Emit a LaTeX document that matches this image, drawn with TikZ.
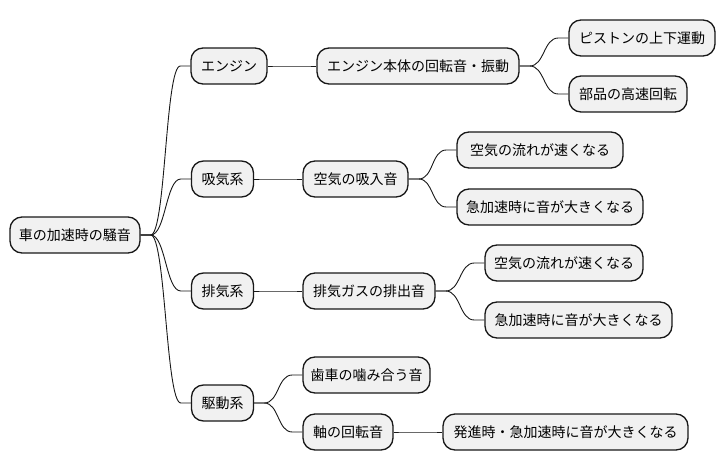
\documentclass[tikz,border=0pt]{standalone}
\usepackage{fontspec}
\setmainfont{Noto Sans CJK JP}
\usetikzlibrary{calc}
\definecolor{boxfill}{HTML}{F1F1F1}
\definecolor{boxline}{HTML}{181818}
\tikzset{
  mm/.style={draw=boxline, fill=boxfill, line width=1.3pt, rounded corners=12pt,
    minimum height=36pt, inner sep=0pt, align=center,
    font=\fontsize{14}{16}\selectfont, text=black},
  conn/.style={draw=boxline, line width=0.9pt}
}
\newcommand\mmconn[2]{\draw[conn] (#1.east) -- ++(10,0) .. controls +(15,0) and ($(#2.west)+(-25,0)$) .. ($(#2.west)+(-10,0)$) -- (#2.west);}
\begin{document}
\begin{tikzpicture}[x=1pt,y=-1pt]
\useasboundingbox (0,0) rectangle (726,471);
\node[mm, minimum width=130pt] (root) at (75,235) {車の加速時の騒音};
\node[mm, minimum width=76pt] (eng) at (229,66) {エンジン};
\node[mm, minimum width=202pt] (hon) at (418,66) {エンジン本体の回転音・振動};
\node[mm, minimum width=146pt] (pis) at (642,38) {ピストンの上下運動};
\node[mm, minimum width=118pt] (buh) at (628,94) {部品の高速回転};
\node[mm, minimum width=62pt] (kyu) at (222.5,179) {吸気系};
\node[mm, minimum width=105pt] (kyn) at (355.5,179) {空気の吸入音};
\node[mm, minimum width=166pt] (k1) at (540,150) {空気の流れが速くなる};
\node[mm, minimum width=186pt] (k2) at (550,207) {急加速時に音が大きくなる};
\node[mm, minimum width=62pt] (hai) at (222.5,291) {排気系};
\node[mm, minimum width=132pt] (has) at (369,291) {排気ガスの排出音};
\node[mm, minimum width=158pt] (h1) at (564,263) {空気の流れが速くなる};
\node[mm, minimum width=187pt] (h2) at (578.5,320) {急加速時に音が大きくなる};
\node[mm, minimum width=62pt] (kud) at (222.5,403) {駆動系};
\node[mm, minimum width=127pt] (hag) at (366.5,375) {歯車の噛み合う音};
\node[mm, minimum width=90pt] (jik) at (348,432) {軸の回転音};
\node[mm, minimum width=245pt] (hsn) at (565.5,432) {発進時・急加速時に音が大きくなる};
\mmconn{root}{eng}
\mmconn{root}{kyu}
\mmconn{root}{hai}
\mmconn{root}{kud}
\mmconn{eng}{hon}
\mmconn{hon}{pis}
\mmconn{hon}{buh}
\mmconn{kyu}{kyn}
\mmconn{kyn}{k1}
\mmconn{kyn}{k2}
\mmconn{hai}{has}
\mmconn{has}{h1}
\mmconn{has}{h2}
\mmconn{kud}{hag}
\mmconn{kud}{jik}
\mmconn{jik}{hsn}
\end{tikzpicture}
\end{document}
